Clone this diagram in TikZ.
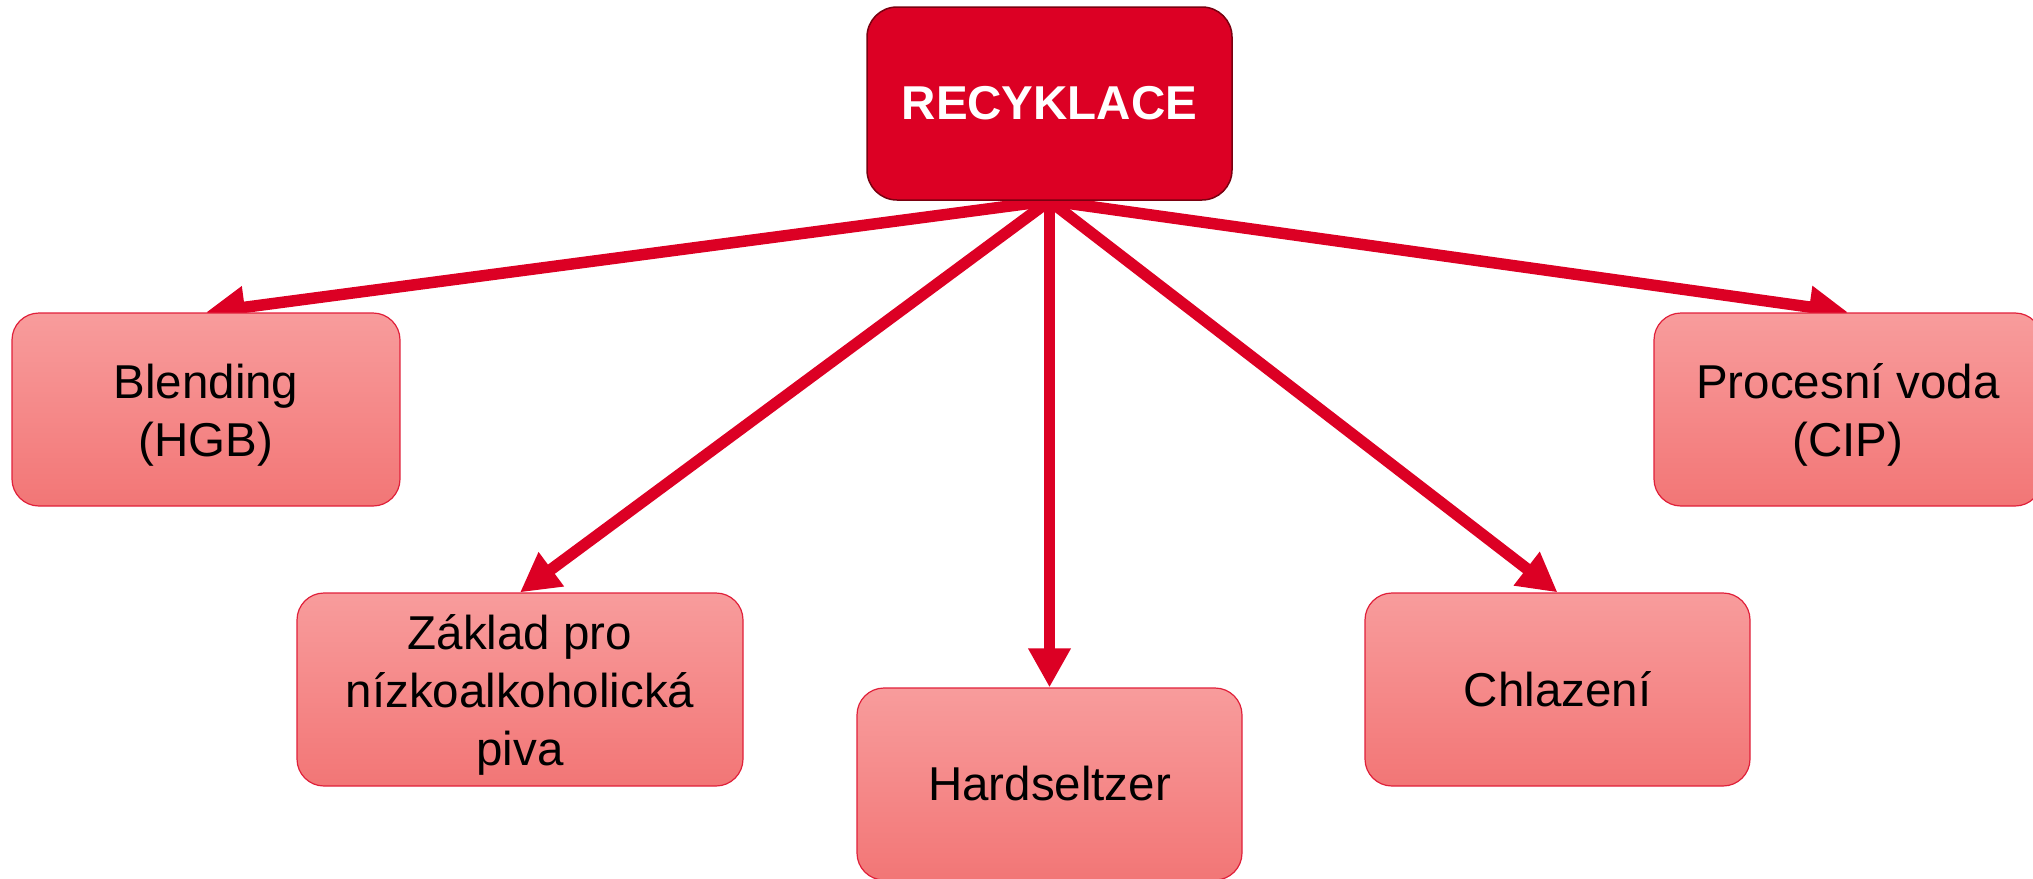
\documentclass[tikz,border=0pt]{standalone}
\usepackage{fontspec}
\setmainfont{Liberation Sans}
\usetikzlibrary{arrows.meta,backgrounds}
\definecolor{topred}{HTML}{DC0024}
\definecolor{topborder}{HTML}{7A0010}
\definecolor{boxtop}{HTML}{F89C9C}
\definecolor{boxbot}{HTML}{F27676}
\definecolor{boxborder}{HTML}{E0203A}
\newcommand\mltext[1]{\raisebox{-6pt}[\height][\depth]{\begin{tabular}{@{}c@{}}#1\end{tabular}}}
\begin{document}
\begin{tikzpicture}[x=1pt,y=-1pt,
  topbox/.style={rectangle, rounded corners=30pt, fill=topred, draw=topborder, line width=1.5pt, text=white, font=\fontsize{47.5}{58}\selectfont\bfseries, minimum width=365pt, minimum height=193pt, inner sep=0pt},
  subbox/.style={rectangle, rounded corners=27pt, top color=boxtop, bottom color=boxbot, draw=boxborder, line width=1.2pt, font=\fontsize{47.5}{58}\selectfont, align=center, minimum height=193pt, inner sep=0pt},
  link/.style={draw=topred, line width=11.5pt, -{Triangle[length=39pt,width=40pt]}}
]
\useasboundingbox (0,0) rectangle (2033,878);
\clip (0,0) rectangle (2033,878);
\node[topbox] (top) at (1049.5,103.5) {RECYKLACE};
\node[subbox, minimum width=388pt] (blend) at (206,409.5) {\mltext{Blending\\(HGB)}};
\node[subbox, minimum width=446pt] (zaklad) at (520,689.5) {\mltext{Základ pro\\nízkoalkoholická\\piva}};
\node[subbox, minimum width=385pt, minimum height=192pt] (hard) at (1049.5,784) {Hardseltzer};
\node[subbox, minimum width=385pt] (chlaz) at (1557.5,689.5) {Chlazení};
\node[subbox, minimum width=388pt] (proc) at (1848,409.5) {\mltext{Procesní voda\\(CIP)}};
\begin{scope}[on background layer]
\draw[link] (top.south) -- (blend.north);
\draw[link] (top.south) -- (zaklad.north);
\draw[link] (top.south) -- (hard.north);
\draw[link] (top.south) -- (chlaz.north);
\draw[link] (top.south) -- (proc.north);
\end{scope}
\end{tikzpicture}
\end{document}
